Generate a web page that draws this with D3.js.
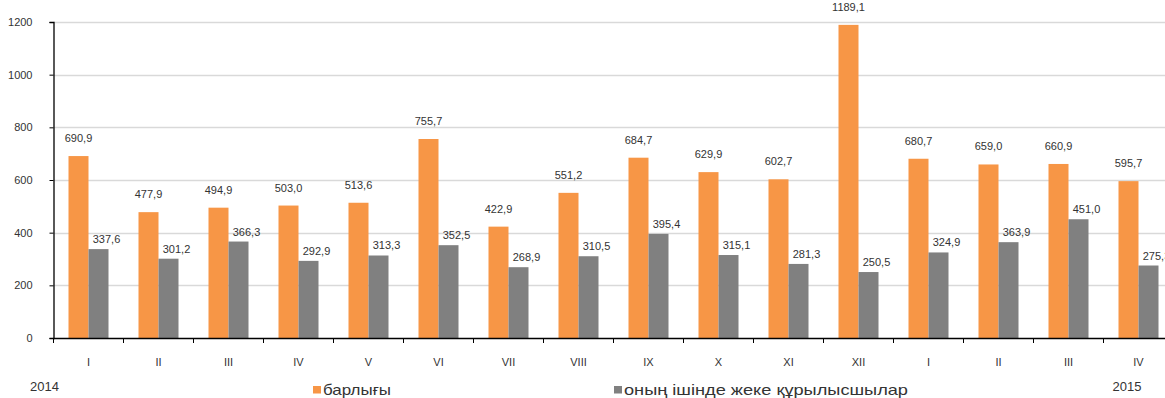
<!DOCTYPE html>
<html><head><meta charset="utf-8">
<script src="https://cdn.jsdelivr.net/npm/d3@7"></script>
<style>
html,body{margin:0;padding:0;background:#fff;overflow:hidden;}
svg{display:block;font-family:"Liberation Sans",Arial,sans-serif;}
</style></head>
<body>
<svg id="c" width="1165" height="398"></svg>
<script>
const categories = ["I","II","III","IV","V","VI","VII","VIII","IX","X","XI","XII","I","II","III","IV"];
const totalValues = [690.9,477.9,494.9,503.0,513.6,755.7,422.9,551.2,684.7,629.9,602.7,1189.1,680.7,659.0,660.9,595.7];
const privateValues = [337.6,301.2,366.3,292.9,313.3,352.5,268.9,310.5,395.4,315.1,281.3,250.5,324.9,363.9,451.0,275.3];
const yTicks = [0,200,400,600,800,1000,1200];
const seriesNames = ["барлығы","оның ішінде жеке құрылысшылар"];
const yearLabels = ["2014","2015"];

const colors = ["#F79646","#808080"];
const svg = d3.select("#c");
const x0 = 53.5, bandW = 70;
const x = d3.scaleBand().domain(d3.range(categories.length)).range([x0, x0 + bandW*categories.length]).paddingInner(0).paddingOuter(0);
const y = d3.scaleLinear().domain([0,1200]).range([338,22]);
const xs = d3.scaleBand().domain([0,1]).range([15,55]);

// gridlines
svg.append("g").selectAll("line").data(yTicks.filter(d=>d>0)).join("line")
  .attr("x1",x0).attr("x2",1165).attr("y1",d=>Math.round(y(d))+0.5).attr("y2",d=>Math.round(y(d))+0.5)
  .attr("stroke","#d9d9d9").attr("stroke-width",1.5);

// y axis
const yAxis = d3.axisLeft(y).tickValues(yTicks).tickSize(4).tickPadding(17).tickFormat(d3.format("d"));
const gy = svg.append("g").attr("transform",`translate(${x0},0)`).call(yAxis);
gy.select(".domain").attr("stroke","#000").attr("stroke-width",1.3);
gy.selectAll(".tick line").attr("stroke","#000");
gy.selectAll(".tick text").attr("font-size",11).attr("fill","#333").attr("font-family","Liberation Sans, Arial, sans-serif");

// bars
const series = [totalValues, privateValues];
series.forEach((vals, si) => {
  svg.append("g").selectAll("rect").data(vals).join("rect")
    .attr("x",(d,i)=>x(i)+xs(si)).attr("width",xs.bandwidth())
    .attr("y",d=>y(d)).attr("height",d=>y(0)-y(d)).attr("fill",colors[si]);
  svg.append("g").selectAll("text").data(vals).join("text")
    .attr("x",(d,i)=>x(i)+xs(si)+xs.bandwidth()/2 + (si===1?8:0))
    .attr("y",d=>y(d) - (si===0?14:6))
    .attr("text-anchor","middle").attr("font-size",11).attr("fill","#333")
    .text(d=>d3.format(".1f")(d).replace(".",","));
});

// x axis
const gx = svg.append("g").attr("transform",`translate(0,${y(0)})`);
gx.append("line").attr("x1",x0).attr("x2",1165).attr("y1",0.5).attr("y2",0.5).attr("stroke","#000").attr("stroke-width",1.3);
gx.selectAll("line.t").data(d3.range(categories.length)).join("line").attr("class","t")
  .attr("x1",i=>x(i)).attr("x2",i=>x(i)).attr("y1",0).attr("y2",5).attr("stroke","#000");
gx.selectAll("text").data(categories).join("text")
  .attr("x",(d,i)=>x(i)+x.bandwidth()/2).attr("y",28)
  .attr("text-anchor","middle").attr("font-size",11).attr("fill","#333").text(d=>d);

// year labels
svg.append("text").attr("x",30).attr("y",391).attr("font-size",13).attr("fill","#333").text(yearLabels[0]);
svg.append("text").attr("x",1112.5).attr("y",391).attr("font-size",13).attr("fill","#333").text(yearLabels[1]);

// legend
const legX = [313, 614];
const legLen = [68, 284];
seriesNames.forEach((n,i)=>{
  svg.append("rect").attr("x",legX[i]).attr("y",386).attr("width",8).attr("height",7.5).attr("fill",colors[i]);
  svg.append("text").attr("x",legX[i]+10).attr("y",394.5).attr("font-size",15).attr("fill","#333")
    .attr("textLength",legLen[i]).attr("lengthAdjust","spacingAndGlyphs").text(n);
});
</script>
</body></html>
